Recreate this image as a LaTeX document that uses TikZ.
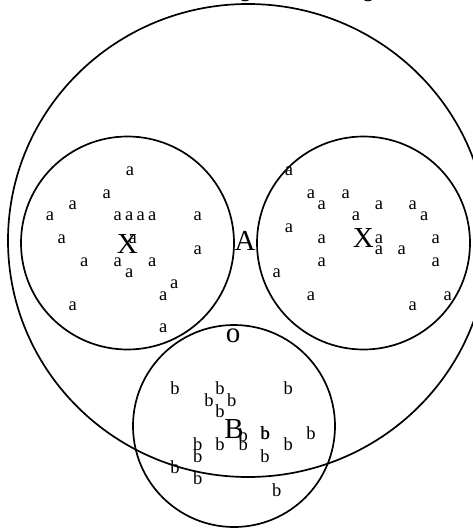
\documentclass[tikz,border=0pt]{standalone}
\usepackage{fontspec}
\setmainfont{Liberation Serif}
\begin{document}
\begin{tikzpicture}[x=1pt,y=-1pt,
  ring/.style={draw=black,line width=1.7pt},
  sm/.style={font=\fontsize{18.5}{18.5}\selectfont,inner sep=0pt,anchor=center},
  big/.style={font=\fontsize{29}{29}\selectfont,inner sep=0pt,anchor=center}]
\useasboundingbox (0,0) rectangle (473,528);
% circles
\draw[ring] (248,240.5) ellipse [x radius=240, y radius=236.5];
\draw[ring] (127.5,243) circle [radius=106.5];
\draw[ring] (363.5,243) circle [radius=106.5];
\draw[ring] (234,426) circle [radius=101];
% top labels (cut off)
\node[big] (t1) at (245,-5) {o};
\node[big] (t2) at (368,-5) {o};
% big labels
\node[big] (lX) at (127.3,244.3) {X};
\node[big] (lA) at (245,241) {A};
\node[big] (rX) at (363.3,238.3) {X};
\node[big] (lB) at (234,429.3) {B};
\node[big] (lo) at (233,336) {o};
% left a's
\foreach \x/\y [count=\i] in {130/171.7,106.7/194.3,72.7/205,50/216.7,117.7/216.7,129.3/216.7,140.7/216.7,152.3/216.7,197.7/216.7,61.7/239.3,132.7/239.3,197.7/250,84.3/262.7,117.7/262.7,152.3/262.7,129.3/273.3,174.3/284.3,163.3/296,72.7/306.7,163.3/328}
  \node[sm] (la\i) at (\x,\y) {a};
% right a's
\foreach \x/\y [count=\i] in {289/171.7,311/194.3,321.7/205,345.7/194.3,379/205,412.7/205,356/216.7,424.3/216.7,289/228.3,321.7/239.3,379/239.3,379/250,401.7/250,435.7/239.3,321.7/262.7,435.7/262.7,276.7/273.3,311/296,412.7/306.7,447.7/296}
  \node[sm] (ra\i) at (\x,\y) {a};
% b's
\foreach \x/\y [count=\i] in {175/388.3,220/388.3,209/400,231.7/400,220/411,288.3/388.3,243.3/435,265/433.3,265.5/433.3,311/433.3,197.7/444.3,220/444.3,243.3/444.3,288.3/444.3,197.7/456,265/456,175/466.7,197.7/478.3,276.7/490}
  \node[sm] (b\i) at (\x,\y) {b};
\end{tikzpicture}
\end{document}
